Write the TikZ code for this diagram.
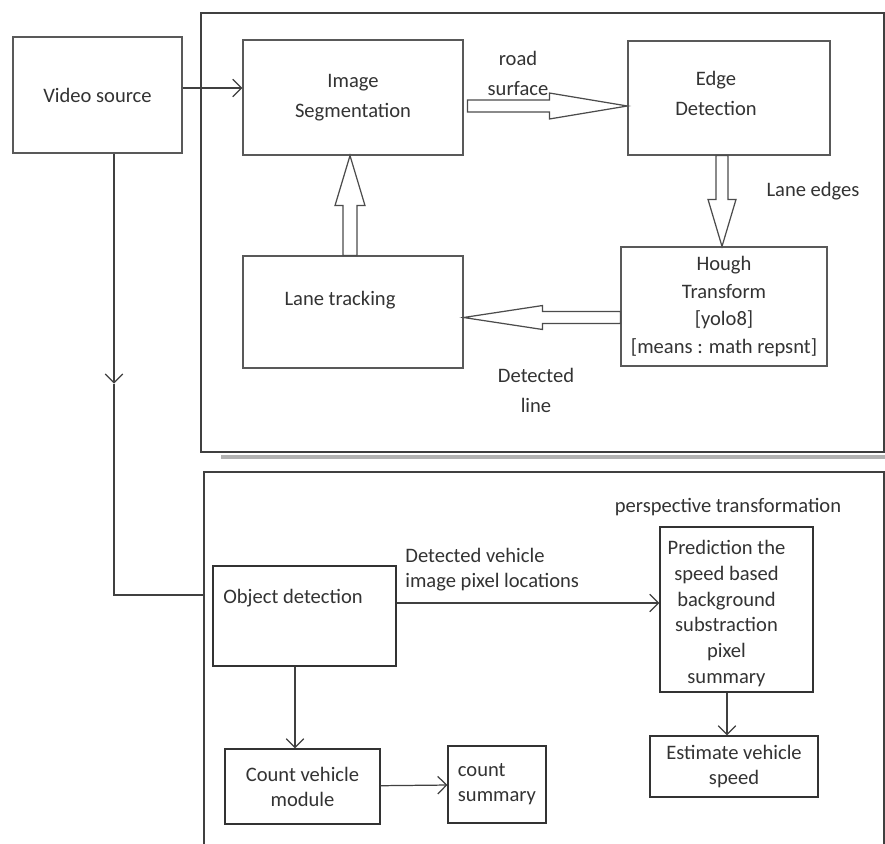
\documentclass[tikz,border=0pt]{standalone}
\usepackage{fontspec}
\setmainfont{Carlito}
\usetikzlibrary{arrows.meta, calc}

\tikzset{
  box/.style={draw=black!65, line width=0.7pt, text=black!80, align=center, inner sep=2pt},
  bbox/.style={box, draw=black!80, font=\fontsize{11.7}{14.2}\selectfont},
  frame/.style={draw=black!75, line width=1.1pt},
  hollow/.style={draw=black!70, line width=0.7pt, fill=white, line join=miter},
  wire/.style={draw=black!75, line width=0.7pt},
  link/.style={wire, -{Straight Barb[length=5pt, width=10pt]}},
  lbl/.style={text=black!80, align=center, inner sep=0pt},
}

\begin{document}
\begin{tikzpicture}[x=0.02cm, y=-0.02cm, font=\fontsize{11.7}{17}\selectfont]
\clip (0,0) rectangle (885,843);
\fill[white] (0,0) rectangle (885,843);

% frames
\node[frame, minimum width=13.66cm, minimum height=8.78cm] (upper) at (542.5,232.5) {};
\node[frame, minimum width=13.6cm, minimum height=7.76cm] (lower) at (544,666) {};
\draw[black!30, line width=2pt] ($(upper.south west)+(21,4)$) -- ($(upper.south east)+(0,4)$);

% lane detection part
\node[box, minimum width=3.38cm, minimum height=2.32cm] (video) at (97.5,95) {Video source};
\node[box, minimum width=4.4cm, minimum height=2.3cm] (seg) at (353,97.5) {Image\\Segmentation};
\node[box, minimum width=4.04cm, minimum height=2.28cm] (edge) at (729,98) {};
\node[lbl] (edgetxt) at ($(edge)+(-13,-5)$) {Edge\\Detection};
\node[box, minimum width=4.12cm, minimum height=2.38cm,
      font=\fontsize{11.7}{15.6}\selectfont] (hough) at (724,306.5)
      {Hough\\Transform\\{}[yolo8]\\{}[means : math repsnt]};
\node[box, minimum width=4.4cm, minimum height=2.24cm] (lane) at (353,312) {};
\node[lbl] (lanetxt) at ($(lane)+(-13,-12)$) {Lane tracking};

\node[lbl] (roadlbl) at (518,73) {road\\surface};
\node[lbl] (edgelbl) at (813,191) {Lane edges};
\node[lbl] (linelbl) at (536,390) {Detected\\line};

% hollow arrows
\coordinate (rsT) at ($(seg.east)+(4,8.5)$);
\coordinate (rsH) at ($(edge.west)+(0,8)$);
\draw[hollow] ($(rsT)+(0,-6)$) -- ($(rsH)+(-78,-6)$) -- ($(rsH)+(-78,-13)$) -- (rsH)
  -- ($(rsH)+(-78,13)$) -- ($(rsH)+(-78,6)$) -- ($(rsT)+(0,6)$) -- cycle;

\coordinate (leT) at ($(edge.south)+(-7,0)$);
\coordinate (leH) at ($(hough.north)+(-2,0)$);
\draw[hollow] ($(leT)+(-6,0)$) -- ($(leH)+(-6,-47)$) -- ($(leH)+(-14,-47)$) -- (leH)
  -- ($(leH)+(14,-47)$) -- ($(leH)+(6,-47)$) -- ($(leT)+(6,0)$) -- cycle;

\coordinate (dlT) at ($(hough.west)+(0,11)$);
\coordinate (dlH) at ($(lane.east)+(0,5.5)$);
\draw[hollow] ($(dlT)+(0,-6)$) -- ($(dlH)+(79,-6)$) -- ($(dlH)+(79,-12)$) -- (dlH)
  -- ($(dlH)+(79,12)$) -- ($(dlH)+(79,6)$) -- ($(dlT)+(0,6)$) -- cycle;

\coordinate (upT) at ($(lane.north)+(-3,0)$);
\coordinate (upH) at ($(seg.south)+(-3,0)$);
\draw[hollow] ($(upT)+(-7,0)$) -- ($(upH)+(-7,50)$) -- ($(upH)+(-15,50)$) -- (upH)
  -- ($(upH)+(15,50)$) -- ($(upH)+(7,50)$) -- ($(upT)+(7,0)$) -- cycle;

\coordinate (vsout) at ($(video.east)+(0,-7)$);
\draw[link] (vsout) -- (vsout -| seg.west);

% vehicle part
\node[bbox, line width=1.1pt, minimum width=3.66cm, minimum height=2cm] (obj) at (304.5,616) {};
\node[lbl] (objtxt) at ($(obj)+(-11.5,-18)$) {Object detection};
\node[bbox, minimum width=3.06cm, minimum height=3.3cm] (pred) at (736.5,609.5) {};
\node[lbl, font=\fontsize{11.7}{14.7}\selectfont] (predtxt) at ($(pred)+(-10,4)$)
  {Prediction the\\speed based\\background\\substraction\\pixel\\summary};
\node[bbox, minimum width=3.36cm, minimum height=1.22cm] (est) at (734,766.5) {Estimate vehicle\\speed};
\node[bbox, minimum width=3.1cm, minimum height=1.5cm] (count) at (302.5,786.5) {Count vehicle\\module};
\node[bbox, align=left, minimum width=1.96cm, minimum height=1.54cm] (csum) at (497,784.5) {count\\summary};

\node[lbl, align=left, anchor=west, font=\fontsize{11.7}{14.2}\selectfont] (pixlbl) at (405,570)
  {Detected vehicle\\image pixel locations};
\node[lbl] (persplbl) at (728,507) {perspective transformation};

% connectors
\coordinate (vdrop) at ($(video.south)+(16.5,0)$);
\coordinate (vmark) at ($(vdrop)+(0,230)$);
\coordinate (objin) at ($(obj.west)+(0,-21)$);
\draw[link] (vdrop) -- (vmark);
\draw[wire] (vmark) |- (objin -| lower.west);

\coordinate (objout) at ($(obj.east)+(0,-13)$);
\draw[link] (objout) -- (objout -| pred.west);
\coordinate (objdown) at ($(obj.south)+(-9.5,0)$);
\draw[link] (objdown) -- (objdown |- count.north);
\coordinate (preddown) at ($(pred.south)+(-9.5,0)$);
\draw[link] (preddown) -- (preddown |- est.north);
\draw[link] (count) -- (csum);
\end{tikzpicture}
\end{document}
